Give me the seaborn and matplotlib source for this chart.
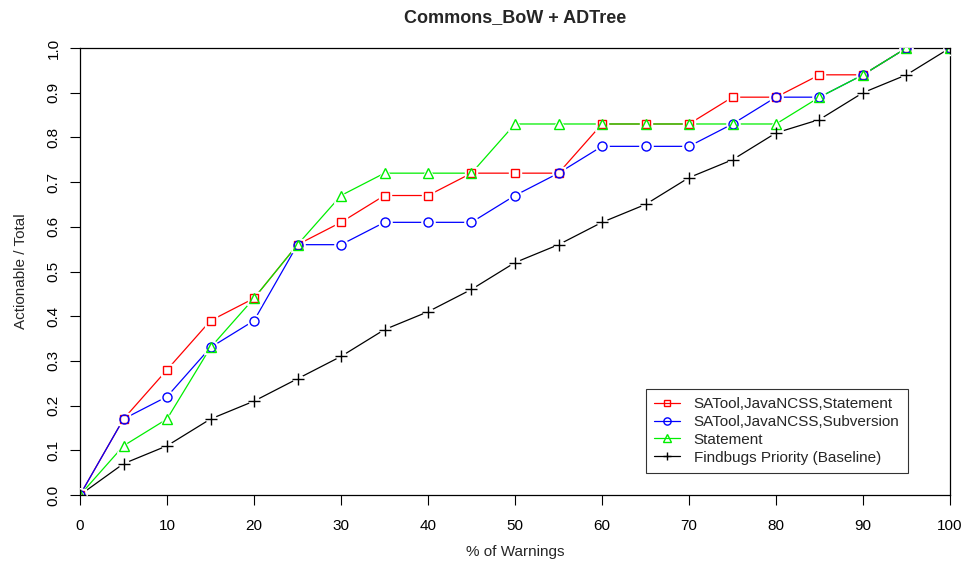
import matplotlib
matplotlib.use("Agg")
import matplotlib.pyplot as plt
import seaborn as sns
import pandas as pd
from matplotlib.lines import Line2D

pct = [0, 5, 10, 15, 20, 25, 30, 35, 40, 45, 50, 55, 60, 65, 70, 75, 80, 85, 90, 95, 100]
satool_statement = [0, 0.17, 0.28, 0.39, 0.44, 0.56, 0.61, 0.67, 0.67, 0.72, 0.72, 0.72,
                    0.83, 0.83, 0.83, 0.89, 0.89, 0.94, 0.94, 1.0, 1.0]
satool_subversion = [0, 0.17, 0.22, 0.33, 0.39, 0.56, 0.56, 0.61, 0.61, 0.61, 0.67, 0.72,
                     0.78, 0.78, 0.78, 0.83, 0.89, 0.89, 0.94, 1.0, 1.0]
statement = [0, 0.11, 0.17, 0.33, 0.44, 0.56, 0.67, 0.72, 0.72, 0.72, 0.83, 0.83,
             0.83, 0.83, 0.83, 0.83, 0.83, 0.89, 0.94, 1.0, 1.0]
baseline = [0, 0.07, 0.11, 0.17, 0.21, 0.26, 0.31, 0.37, 0.41, 0.46, 0.52, 0.56,
            0.61, 0.65, 0.71, 0.75, 0.81, 0.84, 0.90, 0.94, 1.0]

series_names = ["SATool,JavaNCSS,Statement", "SATool,JavaNCSS,Subversion",
                "Statement", "Findbugs Priority (Baseline)"]
series_values = [satool_statement, satool_subversion, statement, baseline]
colors = ["#ff0000", "#0000ff", "#00ee00", "#000000"]
markers = ["s", "o", "^", "+"]
msizes = [6, 6.5, 7.5, 8]

sns.set_theme(style="ticks")
plt.rcParams["font.family"] = ["Liberation Sans", "DejaVu Sans"]

fig = plt.figure(figsize=(9.68, 5.7), dpi=100)
ax = fig.add_axes([80 / 968, 1 - 495 / 570, 870 / 968, 447 / 570])

rows = []
for name, vals in zip(series_names, series_values):
    for x, y in zip(pct, vals):
        rows.append({"pct": x, "val": y, "series": name})
df = pd.DataFrame(rows)

sns.lineplot(data=df, x="pct", y="val", hue="series", palette=dict(zip(series_names, colors)),
             hue_order=series_names, ax=ax, linewidth=0.9, legend=False, sort=False)

# markers with a white gap like R type="b"
for name, vals, c, m, ms in zip(series_names, series_values, colors, markers, msizes):
    if m == "+":
        ax.plot(pct, vals, linestyle="none", marker="o", markersize=7, color="white",
                markeredgecolor="white", zorder=3)
        ax.plot(pct, vals, linestyle="none", marker=m, markersize=ms, color=c,
                markeredgewidth=1.0, zorder=4)
    else:
        ax.plot(pct, vals, linestyle="none", marker=m, markersize=ms + 3, color="white",
                markeredgecolor="white", zorder=3)
        ax.plot(pct, vals, linestyle="none", marker=m, markersize=ms, markerfacecolor="none",
                markeredgecolor=c, markeredgewidth=1.0, zorder=4)

handles = [Line2D([0], [0], color=c, marker=m, markersize=ms * 0.8,
                  markerfacecolor="none" if m != "+" else c, markeredgecolor=c,
                  linewidth=0.9)
           for c, m, ms in zip(colors, markers, msizes)]
leg = ax.legend(handles, series_names, loc="lower right",
                frameon=True, fancybox=False, edgecolor="black", fontsize=11,
                handlelength=1.7, handletextpad=0.9, labelspacing=0.25, borderpad=0.55,
                borderaxespad=0)
leg.get_frame().set_linewidth(0.8)
leg.set_bbox_to_anchor((908 / 968, 1 - 473 / 570), transform=fig.transFigure)

ax.set_xlim(0, 100)
ax.set_ylim(0, 1.0)
ax.set_xticks(range(0, 101, 10))
ax.set_yticks([i / 10 for i in range(11)])
ax.set_yticklabels([f"{i / 10:.1f}" for i in range(11)], rotation=90, va="center")
ax.tick_params(axis="both", direction="out", length=7, width=0.8, labelsize=11, color="black",
               labelcolor="black")
ax.tick_params(axis="x", pad=10)
ax.tick_params(axis="y", pad=7)
for s in ax.spines.values():
    s.set_visible(True)
    s.set_color("black")
    s.set_linewidth(0.9)

ax.set_xlabel("% of Warnings", fontsize=11, labelpad=9)
ax.set_ylabel("Actionable / Total", fontsize=11, labelpad=13)
ax.set_title("Commons_BoW + ADTree", fontsize=13, fontweight="bold", pad=19)

fig.savefig("out.png", dpi=100)
